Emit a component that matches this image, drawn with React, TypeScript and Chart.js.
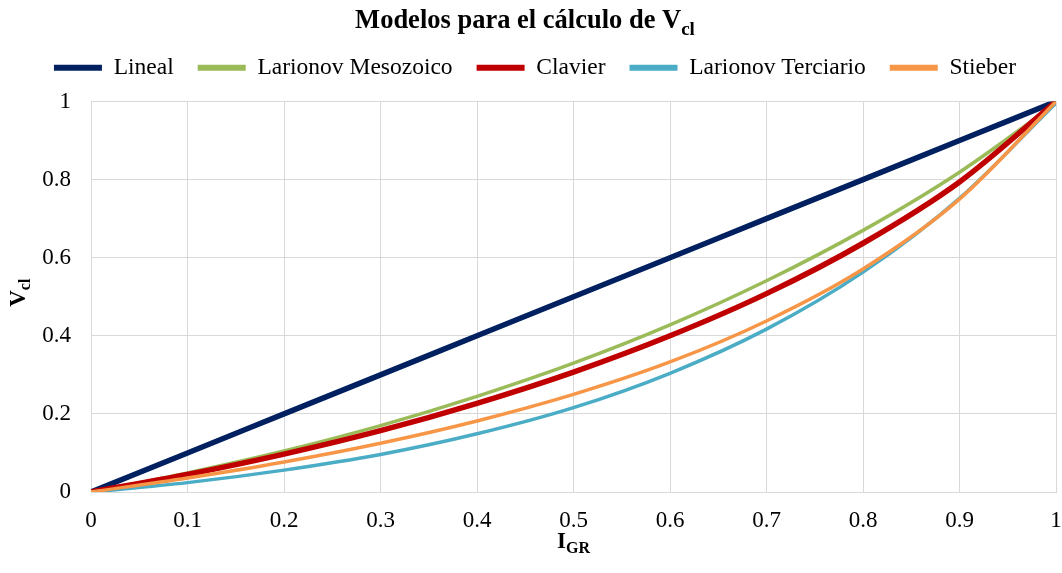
import React, { useEffect, useRef } from "react";
import { Chart, registerables } from "chart.js";

Chart.register(...registerables);

const xValues = [0, 0.1, 0.2, 0.3, 0.4, 0.5, 0.6, 0.7, 0.8, 0.9, 1];
const lineal = [0, 0.1, 0.2, 0.3, 0.4, 0.5, 0.6, 0.7, 0.8, 0.9, 1];
const larionovMesozoico = [0, 0.049, 0.105, 0.17, 0.245, 0.33, 0.428, 0.541, 0.67, 0.819, 0.995];
const clavier = [0, 0.045, 0.097, 0.157, 0.227, 0.307, 0.4, 0.508, 0.637, 0.794, 1];
const larionovTerciario = [0, 0.024, 0.056, 0.096, 0.149, 0.216, 0.304, 0.417, 0.563, 0.752, 0.996];
const stieber = [0, 0.036, 0.077, 0.125, 0.182, 0.25, 0.333, 0.438, 0.571, 0.75, 1];

const seriesNames = ["Lineal", "Larionov Mesozoico", "Clavier", "Larionov Terciario", "Stieber"];
const seriesValues = [lineal, larionovMesozoico, clavier, larionovTerciario, stieber];
const seriesColors = ["#002060", "#9BBB59", "#C00000", "#4BACC6", "#F79646"];
const seriesWidths = [5.5, 3.5, 5.5, 3.5, 3.5];
const seriesOrder = [5, 4, 3, 2, 1];

const titleMain = "Modelos para el cálculo de V";
const titleSub = "cl";
const yTitleMain = "V";
const yTitleSub = "cl";
const xTitleMain = "I";
const xTitleSub = "GR";

const FONT = "'Liberation Serif', 'Times New Roman', serif";

function drawSub(
  ctx: CanvasRenderingContext2D,
  main: string,
  sub: string,
  cx: number,
  baseline: number,
  mainSize: number,
  subSize: number,
  subShift: number
) {
  ctx.font = `bold ${mainSize}px ${FONT}`;
  const wMain = ctx.measureText(main).width;
  ctx.font = `bold ${subSize}px ${FONT}`;
  const wSub = ctx.measureText(sub).width;
  const start = cx - (wMain + wSub) / 2;
  ctx.textAlign = "left";
  ctx.textBaseline = "alphabetic";
  ctx.fillStyle = "#000";
  ctx.font = `bold ${mainSize}px ${FONT}`;
  ctx.fillText(main, start, baseline);
  ctx.font = `bold ${subSize}px ${FONT}`;
  ctx.fillText(sub, start + wMain, baseline + subShift);
}

const textPlugin = {
  id: "subTitles",
  beforeLayout(chart: any) {
    const legend = chart.legend;
    if (legend && !legend.__wrapped) {
      const origFit = legend.fit;
      legend.fit = function () {
        origFit.call(this);
        this.height += 12;
      };
      const origDraw = legend.draw;
      legend.draw = function (...args: any[]) {
        const c = this.ctx as CanvasRenderingContext2D;
        c.save();
        c.translate(7, 0);
        origDraw.apply(this, args);
        c.restore();
      };
      legend.__wrapped = true;
    }
  },
  afterDraw(chart: any) {
    const ctx = chart.ctx as CanvasRenderingContext2D;
    const area = chart.chartArea;
    ctx.save();
    drawSub(ctx, titleMain, titleSub, 525, 28, 26.5, 19, 7);
    drawSub(ctx, xTitleMain, xTitleSub, (area.left + area.right) / 2, 548, 23, 16, 5);
    ctx.translate(25, (area.top + area.bottom) / 2 - 4);
    ctx.rotate(-Math.PI / 2);
    drawSub(ctx, yTitleMain, yTitleSub, 0, 0, 23, 16, 5);
    ctx.restore();
  },
};

export default function App() {
  const canvasRef = useRef<HTMLCanvasElement | null>(null);

  useEffect(() => {
    document.body.style.margin = "0";
    const canvas = canvasRef.current;
    if (!canvas) return;
    const datasets = seriesNames.map((name, i) => ({
      label: name,
      data: xValues.map((x, j) => ({ x, y: seriesValues[i][j] })),
      borderColor: seriesColors[i],
      backgroundColor: seriesColors[i],
      borderWidth: seriesWidths[i],
      pointRadius: 0,
      cubicInterpolationMode: "monotone" as const,
      order: seriesOrder[i],
      borderCapStyle: "round" as const,
    }));
    const chart = new Chart(canvas, {
      type: "line",
      data: { datasets },
      plugins: [textPlugin],
      options: {
        animation: false,
        responsive: false,
        maintainAspectRatio: false,
        layout: { padding: { top: 32, right: 6, left: 0, bottom: 0 } },
        plugins: {
          title: { display: false },
          tooltip: { enabled: false },
          legend: {
            display: true,
            position: "top",
            labels: {
              boxWidth: 48,
              boxHeight: 6,
              padding: 24,
              color: "#000",
              font: { family: FONT, size: 23.5 },
              generateLabels: (ch: any) =>
                ch.data.datasets.map((ds: any, i: number) => ({
                  text: ds.label,
                  fillStyle: ds.borderColor,
                  strokeStyle: ds.borderColor,
                  lineWidth: 0,
                  hidden: false,
                  datasetIndex: i,
                  fontColor: "#000",
                })),
            },
          },
        },
        scales: {
          x: {
            type: "linear",
            min: 0,
            max: 1,
            ticks: {
              stepSize: 0.1,
              color: "#000",
              padding: 15,
              font: { family: FONT, size: 23 },
              maxRotation: 0,
              callback: (v: any) => String(Math.round(Number(v) * 10) / 10),
            },
            grid: { color: "#D9D9D9", lineWidth: 1, drawTicks: false },
            border: { color: "#D9D9D9", width: 1 },
            afterFit: (s: any) => {
              s.height = 81;
              s.paddingRight = 0;
            },
          },
          y: {
            type: "linear",
            min: 0,
            max: 1,
            ticks: {
              stepSize: 0.2,
              color: "#000",
              padding: 20,
              font: { family: FONT, size: 23 },
              callback: (v: any) => String(Math.round(Number(v) * 10) / 10),
            },
            grid: { color: "#D9D9D9", lineWidth: 1, drawTicks: false },
            border: { color: "#D9D9D9", width: 1 },
            afterFit: (s: any) => {
              s.width = 91;
            },
          },
        },
      },
    });
    return () => chart.destroy();
  }, []);

  return (
    <div style={{ width: 1062, height: 573, position: "relative" }}>
      <canvas ref={canvasRef} width={1062} height={573} style={{ display: "block" }} />
    </div>
  );
}
